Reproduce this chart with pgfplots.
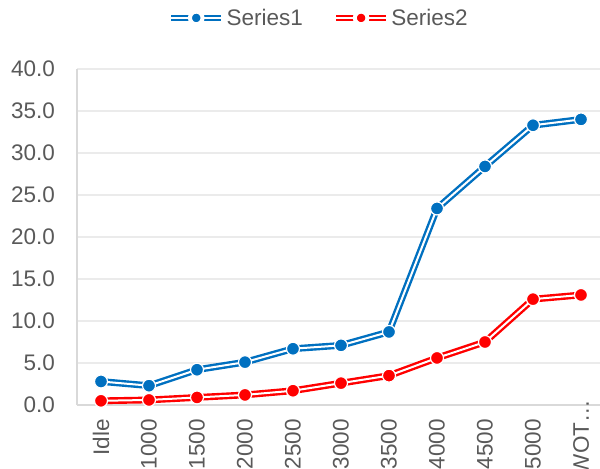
\documentclass[border=0pt]{standalone}
\usepackage{fontspec}
\setmainfont{Liberation Sans}
\usepackage{pgfplots}
\pgfplotsset{compat=1.18}
\definecolor{sblue}{HTML}{0070C0}
\definecolor{sred}{HTML}{FF0000}
\definecolor{txt}{HTML}{595959}
\definecolor{gridc}{HTML}{EBEBEB}
\definecolor{axc}{HTML}{D9D9D9}
\newcommand\lbl{\fontsize{22.5bp}{27bp}\selectfont}
\begin{document}
\begin{tikzpicture}
\begin{axis}[
  at={(0,0)}, anchor=south west,
  scale only axis, width=528bp, height=336bp,
  xmin=-0.5, xmax=10.5, ymin=0, ymax=40,
  xtick={0,...,10},
  xticklabels={Idle,1000,1500,2000,2500,3000,3500,4000,4500,5000,{WOT…\hspace*{-19bp}}},
  ytick={0,5,...,40},
  /pgf/number format/assume math mode=true,
  yticklabel={\pgfmathprintnumber[fixed,fixed zerofill,precision=1]{\tick}},
  axis x line*=bottom, axis y line*=left,
  axis line style={axc, line width=1.5bp},
  major tick length=0pt,
  ymajorgrids, grid style={gridc, line width=1.2bp},
  tick label style={font=\lbl, text=txt, inner sep=0pt},
  yticklabel style={anchor=east},
  yticklabel shift=22bp,
  xticklabel style={rotate=90, anchor=east},
  xticklabel shift=14bp,
  legend columns=2,
  legend style={at={(0.458,1.152)}, anchor=center, draw=none, fill=none,
    font=\lbl, text=txt, inner sep=0pt,
    /tikz/every even column/.append style={column sep=28bp}},
]
\addplot[sblue, line width=2.4bp, double=white, double distance=2bp,
  legend image code/.code={
    \draw[sblue, line width=2.4bp, double=white, double distance=1.8bp] (0bp,0bp) -- (50bp,0bp);
    \fill[sblue, draw=white, line width=1bp] (25bp,0bp) circle (6.3bp);
  }]
  coordinates {(0,2.8)(1,2.3)(2,4.2)(3,5.1)(4,6.7)(5,7.1)(6,8.7)(7,23.4)(8,28.4)(9,33.3)(10,34.0)};
\addlegendentry{Series1}
\addplot[forget plot, only marks, mark=*, mark size=6.5bp,
  mark options={fill=sblue, draw=white, line width=1.2bp}]
  coordinates {(0,2.8)(1,2.3)(2,4.2)(3,5.1)(4,6.7)(5,7.1)(6,8.7)(7,23.4)(8,28.4)(9,33.3)(10,34.0)};
\addplot[sred, line width=2.4bp, double=white, double distance=2bp,
  legend image code/.code={
    \draw[sred, line width=2.4bp, double=white, double distance=1.8bp] (0bp,0bp) -- (50bp,0bp);
    \fill[sred, draw=white, line width=1bp] (25bp,0bp) circle (6.3bp);
  }]
  coordinates {(0,0.5)(1,0.6)(2,0.9)(3,1.2)(4,1.7)(5,2.6)(6,3.5)(7,5.6)(8,7.5)(9,12.6)(10,13.1)};
\addlegendentry{Series2}
\addplot[forget plot, only marks, mark=*, mark size=6.5bp,
  mark options={fill=sred, draw=white, line width=1.2bp}]
  coordinates {(0,0.5)(1,0.6)(2,0.9)(3,1.2)(4,1.7)(5,2.6)(6,3.5)(7,5.6)(8,7.5)(9,12.6)(10,13.1)};
\end{axis}
\pgfresetboundingbox
\path (-77bp,-64bp) rectangle (523bp,405bp);
\end{tikzpicture}
\end{document}
